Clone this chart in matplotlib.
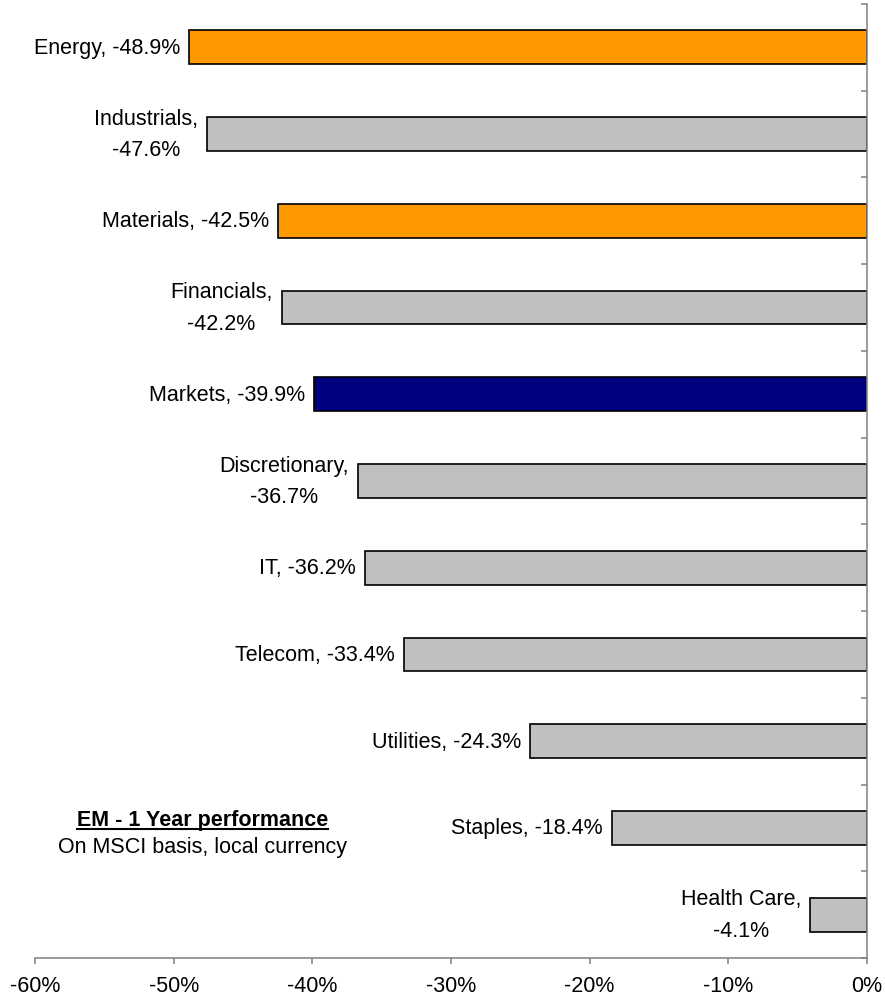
import matplotlib
matplotlib.use("Agg")
import matplotlib.pyplot as plt
import numpy as np
from matplotlib.lines import Line2D

plt.rcParams['font.family'] = ['Liberation Sans', 'DejaVu Sans']

# EM sector returns over one year (MSCI, local currency)
sectors = ["Energy", "Industrials", "Materials", "Financials", "Markets",
           "Discretionary", "IT", "Telecom", "Utilities", "Staples", "Health Care"]
returns = [-48.9, -47.6, -42.5, -42.2, -39.9, -36.7, -36.2, -33.4, -24.3, -18.4, -4.1]
bar_colors = ["#FF9900", "#C0C0C0", "#FF9900", "#C0C0C0", "#000080", "#C0C0C0",
              "#C0C0C0", "#C0C0C0", "#C0C0C0", "#C0C0C0", "#C0C0C0"]
two_line = [False, True, False, True, False, True, False, False, False, False, True]
xticks = [-60, -50, -40, -30, -20, -10, 0]

fig = plt.figure(figsize=(8.85, 10.03), dpi=100)
ax = fig.add_axes([35/885, 44/1003, 832/885, 954/1003])

ypos = np.arange(len(sectors))
ax.barh(ypos, returns, height=0.39, color=bar_colors, edgecolor="black", linewidth=1.2)

for y, name, val, wrap in zip(ypos, sectors, returns, two_line):
    sep = ",\n" if wrap else ", "
    label = name + sep + "%.1f%%" % val
    ax.annotate(label, xy=(val, y), xytext=(-6.5, 0), textcoords="offset points",
                ha="right", va="center", multialignment="center",
                fontsize=15.5, linespacing=1.65)

ax.set_xlim(-60, 0)
ax.set_ylim(len(sectors) - 0.5, -0.5)
ax.set_xticks(xticks)
ax.set_xticklabels(["%d%%" % t for t in xticks], fontsize=15.5)

# category axis sits at 0%, ticks between categories
ax.yaxis.tick_right()
ax.set_yticks(np.arange(len(sectors) + 1) - 0.5)
ax.set_yticklabels([])
ax.tick_params(axis="y", direction="in", length=4.5, width=1.1, color="#808080")
ax.tick_params(axis="x", direction="out", length=4.5, width=1.1, color="#808080", pad=8)

for side in ["left", "top"]:
    ax.spines[side].set_visible(False)
for side in ["right", "bottom"]:
    ax.spines[side].set_color("#808080")
    ax.spines[side].set_linewidth(1.1)

title = ax.text(-47.9, 8.9, "EM - 1 Year performance", ha="center", va="center",
                fontsize=15.5, fontweight="bold")
ax.text(-47.9, 9.21, "On MSCI basis, local currency", ha="center", va="center",
        fontsize=15.5)

# underline the title
fig.canvas.draw()
bb = title.get_window_extent(fig.canvas.get_renderer())
x0, x1 = bb.x0 / fig.bbox.width, bb.x1 / fig.bbox.width
yline = (bb.y0 + 1) / fig.bbox.height
fig.add_artist(Line2D([x0, x1], [yline, yline], color="black", linewidth=1.5,
                      transform=fig.transFigure))

fig.savefig("out.png", dpi=100)
